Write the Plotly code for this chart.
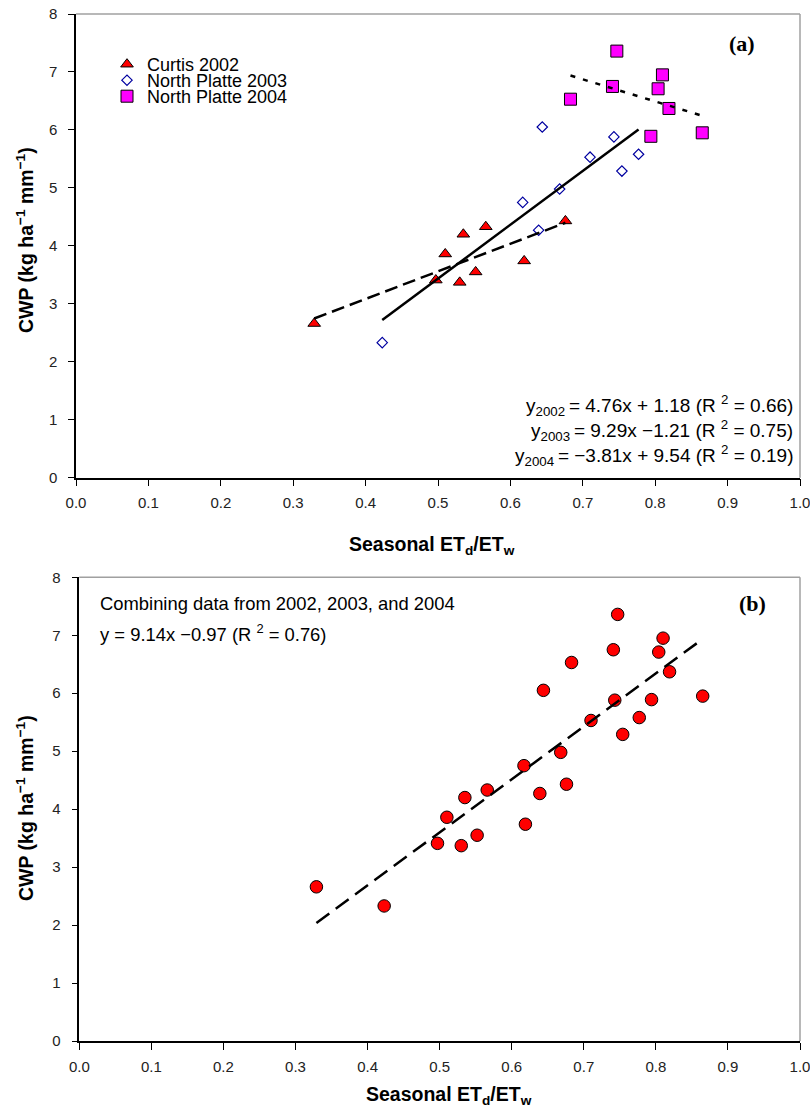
import plotly.graph_objects as go

# ---------------- data ----------------
curtis02_x = [0.329, 0.497, 0.510, 0.530, 0.535, 0.552, 0.566, 0.619, 0.676]
curtis02_y = [2.66, 3.41, 3.86, 3.37, 4.20, 3.55, 4.33, 3.74, 4.43]

np03_x = [0.423, 0.617, 0.639, 0.644, 0.668, 0.710, 0.743, 0.754, 0.777]
np03_y = [2.33, 4.75, 4.27, 6.05, 4.98, 5.53, 5.88, 5.29, 5.58]

np04_x = [0.683, 0.741, 0.747, 0.794, 0.804, 0.810, 0.819, 0.865]
np04_y = [6.53, 6.75, 7.36, 5.89, 6.71, 6.95, 6.37, 5.95]

series_names = ["Curtis 2002", "North Platte 2003", "North Platte 2004"]
fit_slopes = [4.76, 9.29, -3.81]
fit_intercepts = [1.18, -1.21, 9.54]
fit_r2 = [0.66, 0.75, 0.19]
comb_slope = 9.14
comb_intercept = -0.97
comb_r2 = 0.76

x_ticks = [0.0, 0.1, 0.2, 0.3, 0.4, 0.5, 0.6, 0.7, 0.8, 0.9, 1.0]
y_ticks = [0, 1, 2, 3, 4, 5, 6, 7, 8]

# ---------------- layout helpers ----------------
W, H = 810, 1109
ML, MR, MT, MB = 76, 10, 14, 68
PW, PH = W - ML - MR, H - MT - MB


def xp(px):
    return (px - ML) / PW


def yp(py):
    return (H - MB - py) / PH


def clamp(v):
    return max(0.0, min(1.0, v))


AR = "Arial, Liberation Sans, sans-serif"
TIMES = "Times New Roman, Liberation Serif, serif"

fig = go.Figure()

# ---------------- panel (a) ----------------
fig.add_trace(go.Scatter(
    x=curtis02_x, y=curtis02_y, mode="markers", name=series_names[0], legend="legend",
    marker=dict(symbol="triangle-up", size=11, color="#ff0000",
                line=dict(color="black", width=1)),
    xaxis="x", yaxis="y"))
fig.add_trace(go.Scatter(
    x=np03_x, y=np03_y, mode="markers", name=series_names[1], legend="legend2",
    marker=dict(symbol="diamond-open", size=8, color="#0000a0",
                line=dict(color="#0000a0", width=1.2)),
    xaxis="x", yaxis="y"))
fig.add_trace(go.Scatter(
    x=np04_x, y=np04_y, mode="markers", name=series_names[2], legend="legend3",
    marker=dict(symbol="square", size=12, color="#ff00ff",
                line=dict(color="black", width=1)),
    xaxis="x", yaxis="y"))

dashes = ["13px,6px", "solid", "5px,8px"]
for xs, m, b, d in zip([curtis02_x, np03_x, np04_x], fit_slopes, fit_intercepts, dashes):
    x0, x1 = min(xs), max(xs)
    fig.add_trace(go.Scatter(
        x=[x0, x1], y=[m * x0 + b, m * x1 + b], mode="lines",
        line=dict(color="black", width=2.5, dash=d),
        showlegend=False, hoverinfo="skip", xaxis="x", yaxis="y"))

# ---------------- panel (b) ----------------
all_x = curtis02_x + np03_x + np04_x
all_y = curtis02_y + np03_y + np04_y
fig.add_trace(go.Scatter(
    x=all_x, y=all_y, mode="markers", showlegend=False,
    marker=dict(symbol="circle", size=12.5, color="#ff0000",
                line=dict(color="black", width=1)),
    xaxis="x2", yaxis="y2"))
bx0, bx1 = min(all_x), max(all_x)
fig.add_trace(go.Scatter(
    x=[bx0, bx1], y=[comb_slope * bx0 + comb_intercept, comb_slope * bx1 + comb_intercept],
    mode="lines", line=dict(color="black", width=2.5, dash="16px,8px"),
    showlegend=False, hoverinfo="skip", xaxis="x2", yaxis="y2"))

# ---------------- axes ----------------
xcommon = dict(range=[0, 1], tickvals=x_ticks, tickformat=".1f", ticks="outside",
               ticklen=7, tickwidth=1, tickcolor="black", showline=True,
               linecolor="black", linewidth=1.5, showgrid=False, zeroline=False,
               tickfont=dict(family=AR, size=15, color="#222"), ticklabelstandoff=4,
               ticklabeloverflow="allow", automargin=False)
ycommon = dict(range=[0, 8], tickvals=y_ticks, ticks="outside", ticklen=6,
               tickwidth=1, tickcolor="black", showline=True, linecolor="black",
               linewidth=1.5, showgrid=False, zeroline=False,
               tickfont=dict(family=AR, size=15, color="#222"), ticklabelstandoff=8,
               automargin=False)

ya_dom = [clamp(yp(477.7)), clamp(yp(13.7))]
yb_dom = [clamp(yp(1041)), clamp(yp(577.3))]


def leg(top_px):
    return dict(x=xp(107), y=yp(top_px), xanchor="left", yanchor="top",
                bgcolor="rgba(0,0,0,0)", font=dict(family=AR, size=18, color="black"),
                itemsizing="trace")


fig.update_layout(
    width=W, height=H, autosize=False,
    margin=dict(l=ML, r=MR, t=MT, b=MB, autoexpand=False),
    paper_bgcolor="white", plot_bgcolor="white",
    xaxis=dict(domain=[0, 1], anchor="y", **xcommon),
    yaxis=dict(domain=ya_dom, anchor="x", **ycommon),
    xaxis2=dict(domain=[clamp(xp(79.3)), 1], anchor="y2", **xcommon),
    yaxis2=dict(domain=yb_dom, anchor="x2", **ycommon),
    showlegend=True,
    legend=leg(46),
    legend2=leg(62),
    legend3=leg(78),
)

# gray top / right frame lines
for xr, yr in [("x domain", "y domain"), ("x2 domain", "y2 domain")]:
    fig.add_shape(type="line", xref=xr, yref=yr, x0=0, x1=1, y0=1, y1=1,
                  line=dict(color="#a0a0a0", width=1.5))
    fig.add_shape(type="line", xref=xr, yref=yr, x0=1, x1=1, y0=0, y1=1,
                  line=dict(color="#a0a0a0", width=1.5))

ann = []
# axis titles
ytitle = "CWP (kg ha<sup>\u22121</sup> mm<sup>\u22121</sup>)"
xtitle = "Seasonal ET<sub>d</sub>/ET<sub>w</sub>"
ann.append(dict(x=xp(25), y=yp(240), xref="paper", yref="paper", text="<b>%s</b>" % ytitle,
                textangle=-90, showarrow=False, xanchor="center", yanchor="middle",
                font=dict(family=AR, size=19.5, color="black")))
ann.append(dict(x=xp(25), y=yp(808), xref="paper", yref="paper", text="<b>%s</b>" % ytitle,
                textangle=-90, showarrow=False, xanchor="center", yanchor="middle",
                font=dict(family=AR, size=19.5, color="black")))
ann.append(dict(x=xp(432), y=yp(545), xref="paper", yref="paper", text="<b>%s</b>" % xtitle,
                showarrow=False, xanchor="center", yanchor="middle",
                font=dict(family=AR, size=19.5, color="black")))
ann.append(dict(x=xp(449), y=yp(1095), xref="paper", yref="paper", text="<b>%s</b>" % xtitle,
                showarrow=False, xanchor="center", yanchor="middle",
                font=dict(family=AR, size=19.5, color="black")))

# panel labels
ann.append(dict(x=xp(742), y=yp(44), xref="paper", yref="paper", text="<b>(a)</b>",
                showarrow=False, xanchor="center", yanchor="middle",
                font=dict(family=TIMES, size=22, color="black")))
ann.append(dict(x=xp(752), y=yp(603), xref="paper", yref="paper", text="<b>(b)</b>",
                showarrow=False, xanchor="center", yanchor="middle",
                font=dict(family=TIMES, size=22, color="black")))

# equations panel (a)
years = ["2002", "2003", "2004"]
eq_y = [405, 430, 455]


def fmt_eq(m, b):
    ms = ("\u2212%.2f" % abs(m)) if m < 0 else ("%.2f" % m)
    bs = (" \u2212%.2f" % abs(b)) if b < 0 else (" + %.2f" % b)
    return ms + "x" + bs


for yr, m, b, r2, py in zip(years, fit_slopes, fit_intercepts, fit_r2, eq_y):
    txt = "y<sub>%s</sub>\u2009= %s (R <sup>2</sup> = %.2f)" % (yr, fmt_eq(m, b), r2)
    ann.append(dict(x=xp(795), y=yp(py), xref="paper", yref="paper", text=txt,
                    showarrow=False, xanchor="right", yanchor="middle",
                    font=dict(family=AR, size=19, color="black")))

# panel (b) texts
ann.append(dict(x=xp(98), y=yp(603), xref="paper", yref="paper",
                text="Combining data from 2002, 2003, and 2004",
                showarrow=False, xanchor="left", yanchor="middle",
                font=dict(family=AR, size=18.4, color="black")))
ann.append(dict(x=xp(98), y=yp(633), xref="paper", yref="paper",
                text="y = %s (R <sup>2</sup> = %.2f)" % (fmt_eq(comb_slope, comb_intercept), comb_r2),
                showarrow=False, xanchor="left", yanchor="middle",
                font=dict(family=AR, size=18.4, color="black")))

fig.update_layout(annotations=ann)

fig.write_html("out.html")
